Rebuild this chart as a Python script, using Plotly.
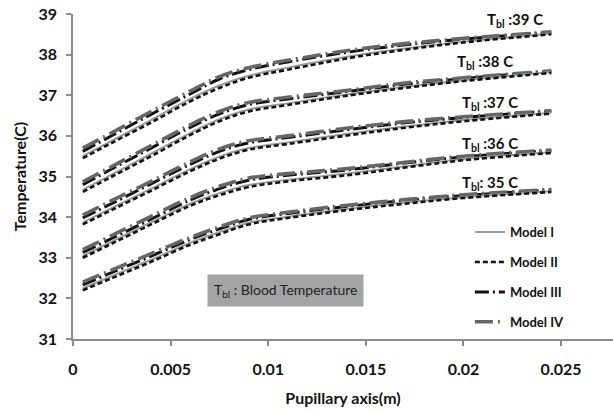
import plotly.graph_objects as go

# Pupillary axis positions (m)
x_axis = [0.0005, 0.002, 0.004, 0.006, 0.0075, 0.009, 0.011, 0.0142, 0.017, 0.020, 0.0245]

# Tbl = 39 C
t39_m4 = [35.70, 36.08, 36.60, 37.10, 37.46, 37.68, 37.86, 38.11, 38.27, 38.40, 38.56]
t39_m3 = [35.62, 36.01, 36.53, 37.03, 37.40, 37.63, 37.82, 38.07, 38.24, 38.38, 38.55]
t39_m1 = [35.50, 35.88, 36.39, 36.91, 37.24, 37.48, 37.68, 37.96, 38.15, 38.32, 38.52]
t39_m2 = [35.45, 35.83, 36.33, 36.85, 37.18, 37.43, 37.63, 37.92, 38.12, 38.30, 38.50]
# Tbl = 38 C
t38_m4 = [34.87, 35.25, 35.76, 36.27, 36.60, 36.82, 36.95, 37.13, 37.30, 37.43, 37.60]
t38_m3 = [34.80, 35.19, 35.70, 36.21, 36.54, 36.77, 36.91, 37.10, 37.27, 37.41, 37.59]
t38_m1 = [34.67, 35.05, 35.56, 36.07, 36.41, 36.65, 36.80, 37.03, 37.21, 37.37, 37.57]
t38_m2 = [34.62, 35.00, 35.50, 36.02, 36.36, 36.60, 36.76, 37.00, 37.18, 37.35, 37.55]
# Tbl = 37 C
t37_m4 = [34.05, 34.41, 34.88, 35.36, 35.68, 35.88, 36.00, 36.20, 36.35, 36.47, 36.62]
t37_m3 = [33.98, 34.34, 34.82, 35.30, 35.62, 35.83, 35.96, 36.16, 36.32, 36.45, 36.61]
t37_m1 = [33.87, 34.23, 34.70, 35.18, 35.49, 35.70, 35.84, 36.06, 36.23, 36.39, 36.57]
t37_m2 = [33.82, 34.18, 34.65, 35.13, 35.44, 35.66, 35.80, 36.02, 36.20, 36.36, 36.55]
# Tbl = 36 C
t36_m4 = [33.20, 33.55, 34.02, 34.48, 34.76, 34.96, 35.07, 35.20, 35.35, 35.50, 35.65]
t36_m3 = [33.13, 33.48, 33.95, 34.42, 34.70, 34.91, 35.03, 35.17, 35.33, 35.48, 35.64]
t36_m1 = [33.05, 33.40, 33.87, 34.33, 34.59, 34.79, 34.92, 35.08, 35.25, 35.43, 35.60]
t36_m2 = [33.00, 33.35, 33.82, 34.28, 34.54, 34.74, 34.88, 35.04, 35.22, 35.40, 35.58]
# Tbl = 35 C
t35_m4 = [32.40, 32.70, 33.10, 33.50, 33.76, 33.98, 34.12, 34.30, 34.43, 34.55, 34.68]
t35_m3 = [32.33, 32.64, 33.04, 33.45, 33.71, 33.94, 34.09, 34.27, 34.41, 34.53, 34.67]
t35_m1 = [32.25, 32.55, 32.95, 33.37, 33.63, 33.86, 34.01, 34.21, 34.36, 34.49, 34.64]
t35_m2 = [32.20, 32.50, 32.90, 33.32, 33.58, 33.82, 33.98, 34.18, 34.33, 34.47, 34.62]

groups = [
    ("39", t39_m1, t39_m2, t39_m3, t39_m4),
    ("38", t38_m1, t38_m2, t38_m3, t38_m4),
    ("37", t37_m1, t37_m2, t37_m3, t37_m4),
    ("36", t36_m1, t36_m2, t36_m3, t36_m4),
    ("35", t35_m1, t35_m2, t35_m3, t35_m4),
]

label_text = ["T<sub>bl</sub> :39 C", "T<sub>bl</sub> :38 C", "T<sub>bl</sub> :37 C",
              "T<sub>bl</sub> :36 C", "T<sub>bl</sub>: 35 C"]
label_x = [0.02264, 0.0211, 0.02136, 0.02136, 0.02136]
label_y = [38.85, 37.82, 36.81, 35.80, 34.84]

model_names = ["Model I", "Model II", "Model III", "Model IV"]
styles = {
    "Model I": dict(color="#9a9a9a", width=2, dash="solid"),
    "Model II": dict(color="#111111", width=2.6, dash="5px,3px"),
    "Model III": dict(color="#111111", width=3, dash="14px,4px,2px,4px"),
    "Model IV": dict(color="#666666", width=3.6, dash="18px,5px,2px,5px"),
}
draw_order = [2, 3, 0, 1]  # III, IV, I, II

fig = go.Figure()
for gi, g in enumerate(groups):
    series = g[1:]
    for mi in draw_order:
        name = model_names[mi]
        fig.add_trace(go.Scatter(
            x=x_axis, y=series[mi], mode="lines",
            name="<b>" + name + "</b>",
            line=dict(**styles[name], shape="spline", smoothing=1.0),
            legendgroup=name, showlegend=(gi == 0), legendrank=mi + 1,
        ))

font_main = "Lato, 'Open Sans', Arial, sans-serif"

for t, lx, ly in zip(label_text, label_x, label_y):
    fig.add_annotation(x=lx, y=ly, text="<b>" + t + "</b>", showarrow=False,
                       font=dict(family=font_main, size=15, color="#111"))

fig.add_annotation(x=0.01091, y=32.19, text="T<sub>bl</sub> : Blood Temperature",
                   showarrow=False, bgcolor="#a3a3a3", borderpad=6,
                   font=dict(family=font_main, size=14, color="#222"))

axis_common = dict(showline=True, linecolor="#8c8c8c", linewidth=1.5,
                   ticks="outside", ticklen=5, tickcolor="#8c8c8c", tickwidth=1.5,
                   showgrid=False, zeroline=False, automargin=False,
                   ticklabeloverflow="allow",
                   tickfont=dict(family=font_main, size=16, color="#111"))

fig.update_layout(
    width=613, height=410,
    margin=dict(l=73, r=0, t=14, b=71),
    plot_bgcolor="white", paper_bgcolor="white",
    font=dict(family=font_main, color="#111"),
    legend=dict(x=0.735, y=0.375, xanchor="left", yanchor="top",
                bgcolor="rgba(0,0,0,0)", tracegroupgap=10,
                font=dict(family=font_main, size=13, color="#111")),
    xaxis=dict(range=[0, 0.02766], tickvals=[0, 0.005, 0.01, 0.015, 0.02, 0.025],
               ticktext=["<b>0</b>", "<b>0.005</b>", "<b>0.01</b>", "<b>0.015</b>",
                         "<b>0.02</b>", "<b>0.025</b>"],
               ticklabelstandoff=10,
               title=dict(text="<b>Pupillary axis(m)</b>", standoff=16,
                          font=dict(family=font_main, size=16, color="#111")),
               **axis_common),
    yaxis=dict(range=[31, 39], tickvals=[31, 32, 33, 34, 35, 36, 37, 38, 39],
               ticktext=["<b>%d</b>" % v for v in range(31, 40)],
               ticklabelstandoff=6,
               title=dict(text="<b>Temperature(C)</b>", standoff=8,
                          font=dict(family=font_main, size=16, color="#111")),
               **axis_common),
)

# remove the browser's default page margin so the figure fills the window
fig.write_html("out.html", config={"displayModeBar": False},
               post_script="document.body.style.margin='0';")
